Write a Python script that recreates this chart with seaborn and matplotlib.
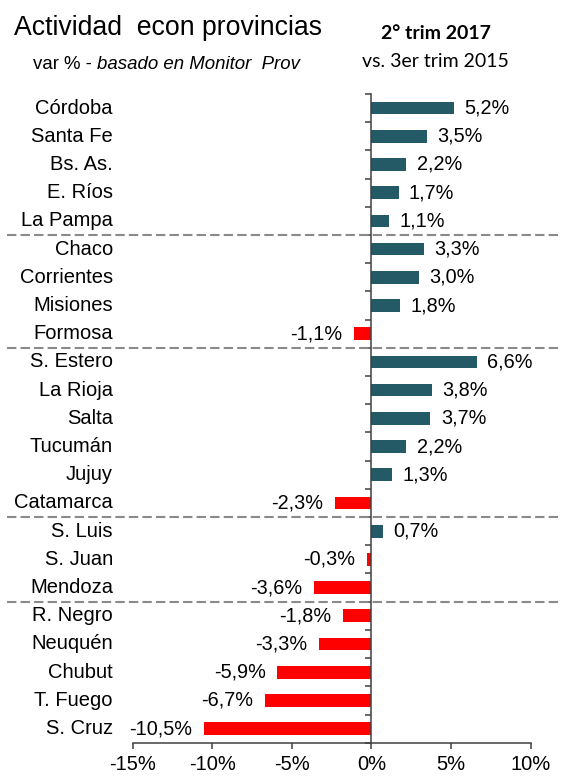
import numpy as np
import pandas as pd
import seaborn as sns
import matplotlib.pyplot as plt
from matplotlib.transforms import blended_transform_factory

# data
provincias = ['Córdoba', 'Santa Fe', 'Bs. As.', 'E. Ríos', 'La Pampa',
              'Chaco', 'Corrientes', 'Misiones', 'Formosa',
              'S. Estero', 'La Rioja', 'Salta', 'Tucumán', 'Jujuy', 'Catamarca',
              'S. Luis', 'S. Juan', 'Mendoza',
              'R. Negro', 'Neuquén', 'Chubut', 'T. Fuego', 'S. Cruz']
variacion = [5.2, 3.5, 2.2, 1.7, 1.1,
             3.3, 3.0, 1.8, -1.1,
             6.6, 3.8, 3.7, 2.2, 1.3, -2.3,
             0.7, -0.3, -3.6,
             -1.8, -3.3, -5.9, -6.7, -10.5]
# last province of each region (a dashed line goes below it)
fin_region = ['La Pampa', 'Formosa', 'Catamarca', 'Mendoza']
x_ticks = [-15, -10, -5, 0, 5, 10]

df = pd.DataFrame({'provincia': provincias, 'var': variacion})
df['signo'] = np.where(df['var'] >= 0, 'pos', 'neg')

sns.set_theme(style='white')
plt.rcParams['font.family'] = ['Liberation Sans', 'DejaVu Sans']
plt.rcParams['text.color'] = 'black'

fig = plt.figure(figsize=(5.62, 7.76), dpi=100)
ax = fig.add_axes([0.2358, 0.0429, 0.9443 - 0.2358, 0.8789 - 0.0429])

sns.barplot(data=df, x='var', y='provincia', hue='signo', order=provincias,
            palette={'pos': '#245a66', 'neg': '#ff0000'}, saturation=1,
            dodge=False, width=0.45, linewidth=0, legend=False, orient='h',
            ax=ax)

ax.set_xlim(-15, 10)
ax.set_ylim(len(provincias) - 0.5, -0.5)
ax.set_xlabel('')
ax.set_ylabel('')

# axes: y axis crossing at zero, ticks between the categories
for s in ['top', 'right']:
    ax.spines[s].set_visible(False)
ax.spines['left'].set_position(('data', 0))
for s in ['left', 'bottom']:
    ax.spines[s].set_color('#404040')
    ax.spines[s].set_linewidth(1.1)
ax.set_yticks(np.arange(-0.5, len(provincias), 1))
ax.set_yticklabels([])
ax.set_xticks(x_ticks)
ax.set_xticklabels([f'{t}%' for t in x_ticks], fontsize=14.5, color='black')
ax.tick_params(axis='both', direction='out', length=4.5, width=1.1,
               color='#404040', left=True, bottom=True)
ax.tick_params(axis='x', pad=4)

# category names, right aligned left of the plot
tr = blended_transform_factory(fig.transFigure, ax.transData)
for i, p in enumerate(provincias):
    ax.text(0.201, i, p, transform=tr, ha='right', va='center',
            fontsize=14.5, color='black', clip_on=False)

# value labels
for i, v in enumerate(variacion):
    txt = f'{v:.1f}%'.replace('.', ',')
    if v >= 0:
        ax.annotate(txt, (v, i), xytext=(7.5, 0), textcoords='offset points',
                    ha='left', va='center', fontsize=14.3)
    else:
        ax.annotate(txt, (v, i), xytext=(-8.5, 0), textcoords='offset points',
                    ha='right', va='center', fontsize=14.3)

# dashed separators across the whole figure
for p in fin_region:
    y = provincias.index(p) + 0.5
    ln = ax.plot([0.012, 1.0], [y, y], transform=tr, color='#8a8a8a',
                 lw=1.5, clip_on=False)[0]
    ln.set_dashes([4.5, 2])

# titles
fig.text(0.025, 1 - 35 / 776, 'Actividad  econ provincias', fontsize=19.2,
         va='baseline', ha='left')
t1 = fig.text(0.059, 1 - 69 / 776, 'var % - ', fontsize=13.4,
              va='baseline', ha='left')
fig.canvas.draw()
bb = t1.get_window_extent(renderer=fig.canvas.get_renderer())
fig.text(bb.x1 / fig.bbox.width, 1 - 69 / 776, 'basado en Monitor  Prov',
         fontsize=13.4, style='italic', va='baseline', ha='left')

fig.text(435.5 / 562, 1 - 39 / 776, '2° trim 2017', fontsize=14, weight='bold',
         family=['Lato', 'DejaVu Sans'], va='baseline', ha='center')
fig.text(435.5 / 562, 1 - 67 / 776, 'vs. 3er trim 2015', fontsize=14,
         family=['Lato', 'DejaVu Sans'], va='baseline', ha='center')

fig.savefig('out.png', dpi=100)
